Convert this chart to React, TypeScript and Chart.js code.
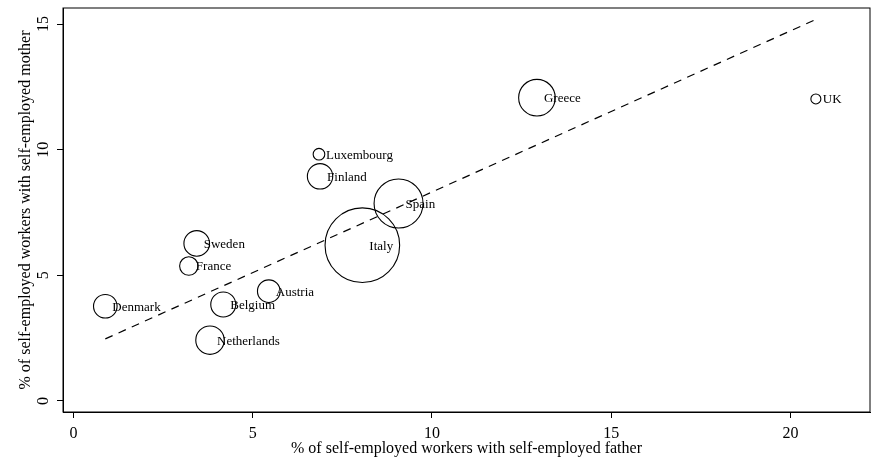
import React, { useEffect, useRef } from "react";
import { Chart, registerables } from "chart.js";

Chart.register(...registerables);

const countries = ["Denmark", "Sweden", "France", "Belgium", "Netherlands", "Austria", "Italy", "Spain", "Finland", "Luxembourg", "Greece", "UK"];
const fatherPct = [0.89, 3.44, 3.22, 4.18, 3.81, 5.45, 8.06, 9.07, 6.88, 6.85, 12.93, 20.71];
const motherPct = [3.77, 6.27, 5.37, 3.84, 2.42, 4.37, 6.2, 7.86, 8.94, 9.82, 12.07, 12.02];
const weights = [139, 164, 85, 156, 202, 128, 1391, 600, 161, 34, 335, 25];
const fitX = [0.89, 20.75];
const fitY = [2.47, 15.21];
const xTicks = [0, 5, 10, 15, 20];
const yTicks = [0, 5, 10, 15];

const FONT = "'Liberation Serif', 'Times New Roman', serif";

export default function App() {
  const ref = useRef<HTMLCanvasElement>(null);

  useEffect(() => {
    document.body.style.margin = "0";
    Chart.defaults.color = "#000";
    const labelPlugin = {
      id: "countryLabels",
      afterDatasetsDraw(chart: any) {
        const ctx = chart.ctx;
        const meta = chart.getDatasetMeta(0);
        ctx.save();
        ctx.font = "13px " + FONT;
        ctx.fillStyle = "#000";
        ctx.textBaseline = "middle";
        ctx.textAlign = "left";
        meta.data.forEach((el: any, i: number) => {
          ctx.fillText(countries[i], el.x + 7, el.y + 1);
        });
        ctx.restore();
      },
    };
    const framePlugin = {
      id: "frame",
      afterDraw(chart: any) {
        const { left, top, right, bottom } = chart.chartArea;
        const ctx = chart.ctx;
        ctx.save();
        ctx.strokeStyle = "#000";
        ctx.lineWidth = 1;
        ctx.strokeRect(left, top, right - left, bottom - top);
        ctx.restore();
      },
    };

    const chart = new Chart(ref.current!, {
      type: "bubble",
      data: {
        datasets: [
          {
            type: "bubble",
            data: countries.map((_, i) => ({ x: fatherPct[i], y: motherPct[i], r: Math.sqrt(weights[i]) })),
            backgroundColor: "rgba(0,0,0,0)",
            borderColor: "#000",
            borderWidth: 1.1,
          } as any,
          {
            type: "line",
            data: fitX.map((x, i) => ({ x, y: fitY[i] })),
            borderColor: "#000",
            borderWidth: 1.2,
            borderDash: [8, 6.5],
            pointRadius: 0,
            fill: false,
          } as any,
        ],
      },
      options: {
        animation: false,
        responsive: true,
        maintainAspectRatio: false,
        layout: { autoPadding: false, padding: { top: 8, right: 3, left: 0, bottom: 0 } },
        plugins: { legend: { display: false }, tooltip: { enabled: false } },
        scales: {
          x: {
            type: "linear",
            min: -0.29,
            max: 22.22,
            afterBuildTicks: (s: any) => {
              s.ticks = xTicks.map((v) => ({ value: v }));
            },
            afterFit: (s: any) => {
              s.height = 49;
              s.paddingLeft = 0;
              s.paddingRight = 0;
            },
            grid: { display: true, drawOnChartArea: false, drawTicks: true, tickLength: 6, color: "#000", tickWidth: 1 },
            border: { display: true, color: "#000", width: 1 },
            ticks: { font: { family: FONT, size: 16 }, padding: 6, color: "#000" },
            title: { display: true, text: "% of self-employed workers with self-employed father", font: { family: FONT, size: 16 }, padding: { top: 0, bottom: 3 }, color: "#000" },
          },
          y: {
            type: "linear",
            min: -0.44,
            max: 15.64,
            afterBuildTicks: (s: any) => {
              s.ticks = yTicks.map((v) => ({ value: v }));
            },
            afterFit: (s: any) => {
              s.width = 63;
              s.paddingTop = 0;
              s.paddingBottom = 0;
            },
            grid: { display: true, drawOnChartArea: false, drawTicks: true, tickLength: 6, color: "#000", tickWidth: 1 },
            border: { display: true, color: "#000", width: 1 },
            ticks: { font: { family: FONT, size: 16 }, padding: 5.5, minRotation: 90, maxRotation: 90, crossAlign: "center", color: "#000" },
            title: { display: true, text: "% of self-employed workers with self-employed mother", font: { family: FONT, size: 16 }, padding: { top: 16, bottom: 0 }, color: "#000" },
          },
        },
      },
      plugins: [labelPlugin, framePlugin],
    } as any);
    return () => chart.destroy();
  }, []);

  return (
    <div style={{ width: 873, height: 461, position: "relative", background: "#fff" }}>
      <canvas ref={ref} />
    </div>
  );
}
